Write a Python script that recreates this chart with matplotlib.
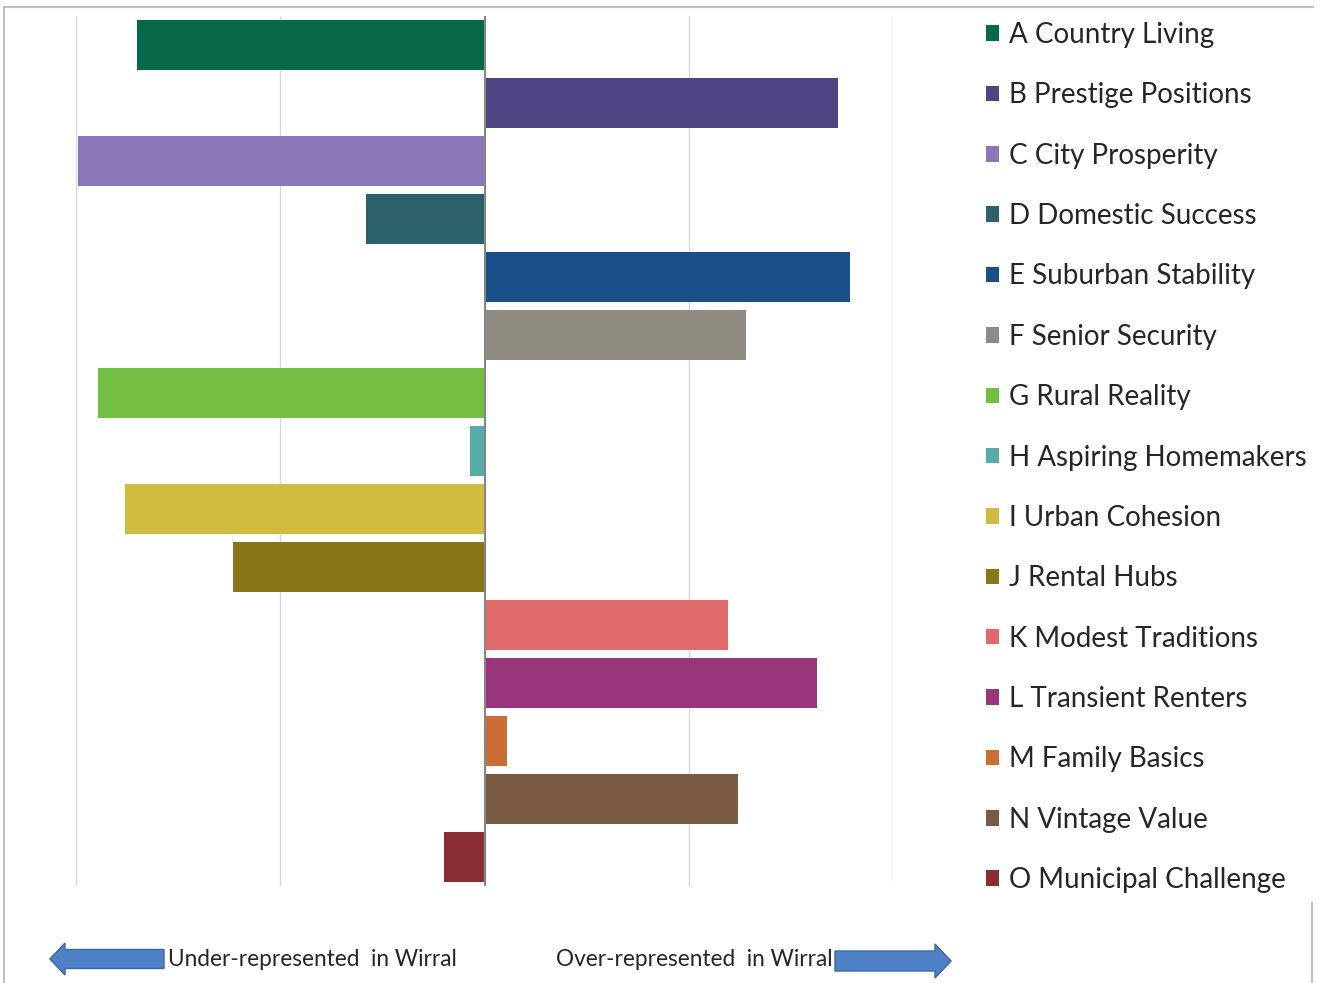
import matplotlib
matplotlib.use("Agg")
import matplotlib.pyplot as plt
from matplotlib.patches import Patch, FancyArrow
from matplotlib.lines import Line2D

categories = ["A Country Living", "B Prestige Positions", "C City Prosperity",
              "D Domestic Success", "E Suburban Stability", "F Senior Security",
              "G Rural Reality", "H Aspiring Homemakers", "I Urban Cohesion",
              "J Rental Hubs", "K Modest Traditions", "L Transient Renters",
              "M Family Basics", "N Vintage Value", "O Municipal Challenge"]
values = [-1.70, 1.73, -1.99, -0.58, 1.79, 1.28, -1.89, -0.07, -1.76,
          -1.23, 1.19, 1.63, 0.11, 1.24, -0.20]
colors = ["#07694a", "#4e4584", "#8b77b8", "#2b616d", "#1b4f8a", "#8e8b80",
          "#72bf44", "#56aca6", "#d0bb3e", "#877719", "#de6b69", "#99357b",
          "#c96f35", "#795a44", "#8a2e35"]
under_label = "Under-represented  in Wirral"
over_label = "Over-represented  in Wirral"

W, H = 1320, 983
fig = plt.figure(figsize=(W / 100, H / 100), dpi=100)
fig.patch.set_facecolor("white")

def fx(px):
    return px / W

def fy(py):
    return 1 - py / H

ax = fig.add_axes([fx(76), fy(886), fx(893) - fx(76), fy(16) - fy(886)])
ypos = list(range(len(categories)))
ax.barh(ypos, values, height=0.86, color=colors, zorder=2)
ax.set_xlim(-2, 2)
ax.set_ylim(len(categories) - 0.5, -0.5)
ax.set_xticks([-2, -1, 0, 1, 2])
ax.set_yticks([])
ax.tick_params(axis="x", length=0, labelbottom=False)
ax.grid(axis="x", color="#d9d9d9", linewidth=1, zorder=0)
for s in ax.spines.values():
    s.set_visible(False)
ax.axvline(0, color="#868686", linewidth=1.5, zorder=3)

handles = [Patch(facecolor=c, edgecolor="none") for c in colors]
leg = fig.legend(handles, categories, loc="upper left",
                 bbox_to_anchor=(fx(986), fy(22)), frameon=False,
                 prop={"family": ["Lato", "DejaVu Sans"], "size": 20},
                 handlelength=0.48, handleheight=0.48, handletextpad=0.36,
                 labelspacing=1.237, borderaxespad=0, borderpad=0)
for t in leg.get_texts():
    t.set_color("#262626")

# frame lines
fig.add_artist(Line2D([fx(4), fx(1313)], [fy(7), fy(7)], color="#bfbfbf", lw=1.5))
fig.add_artist(Line2D([fx(4), fx(4)], [fy(7), fy(983)], color="#bfbfbf", lw=1.5))
fig.add_artist(Line2D([fx(1312), fx(1312)], [fy(903), fy(983)], color="#bfbfbf", lw=1.5))

# arrows
arrow_kw = dict(facecolor="#4f81c7", edgecolor="#3a67a8", linewidth=1,
                length_includes_head=True, transform=fig.transFigure)
fig.add_artist(FancyArrow(fx(164), fy(959), fx(50) - fx(164), 0,
                          width=19 / H, head_width=32 / H, head_length=15 / W, **arrow_kw))
fig.add_artist(FancyArrow(fx(835), fy(961), fx(951) - fx(835), 0,
                          width=20 / H, head_width=34 / H, head_length=16 / W, **arrow_kw))

txt_font = {"family": ["Lato", "DejaVu Sans"], "size": 16.3}
fig.text(fx(168), fy(960), under_label, ha="left", va="center", color="#262626", **txt_font)
fig.text(fx(833), fy(960), over_label, ha="right", va="center", color="#262626", **txt_font)

fig.savefig("out.png", dpi=100, facecolor="white")
